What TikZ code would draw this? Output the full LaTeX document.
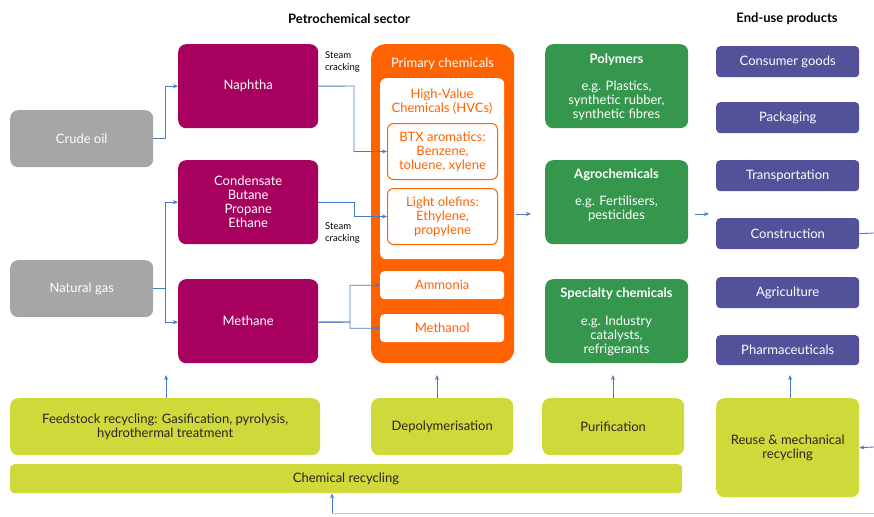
\documentclass[tikz,border=0pt]{standalone}
\usepackage{fontspec}
\setmainfont{Lato}
\usetikzlibrary{arrows.meta}
\definecolor{cgray}{HTML}{A6A6A6}
\definecolor{cmag}{HTML}{A8005F}
\definecolor{corange}{HTML}{FF6200}
\definecolor{cgreen}{HTML}{34974D}
\definecolor{cpurple}{HTML}{525199}
\definecolor{clime}{HTML}{D0D93A}
\definecolor{carrow}{HTML}{4A78CC}
\newcommand{\mainfs}{\fontsize{13}{14}\selectfont}
\tikzset{
  base/.style={rectangle, rounded corners=8pt, inner sep=0pt, anchor=north west, align=center, font=\mainfs},
  graybox/.style={base, fill=cgray, text=white},
  magbox/.style={base, fill=cmag, text=white},
  greenbox/.style={base, fill=cgreen, text=white},
  purplebox/.style={base, fill=cpurple, text=white, rounded corners=4pt},
  limebox/.style={base, fill=clime, text=black!85},
  orangebox/.style={base, fill=corange, rounded corners=14pt},
  whitebox/.style={base, fill=white, text=corange, rounded corners=6pt},
  olbox/.style={base, fill=white, draw=corange, line width=1pt, text=corange, rounded corners=6pt},
  lbl/.style={inner sep=0pt, align=center, font=\mainfs},
  conn/.style={draw=carrow, line width=0.9pt, -{Stealth[length=5pt,width=4pt]}},
  plain/.style={draw=carrow, line width=0.9pt},
  small/.style={font=\fontsize{9.5}{12}\selectfont, align=left, anchor=north west, inner sep=0pt},
  head/.style={font=\bfseries\fontsize{13}{15}\selectfont, inner sep=0pt}
}
\begin{document}
\begin{tikzpicture}[x=1pt,y=-1pt]
\useasboundingbox (0,0) rectangle (874,516);
\fill[white] (0,0) rectangle (874,516);

% headings
\node[head] (h1) at (349,19) {Petrochemical sector};
\node[head] (h2) at (787,19) {End-use products};

% sources
\node[graybox, minimum width=143pt, minimum height=57pt] (crude) at (10,110) {Crude oil};
\node[graybox, minimum width=143pt, minimum height=57pt] (gas) at (10,260) {Natural gas};

% feedstocks
\node[magbox, minimum width=140pt, minimum height=84pt] (naph) at (178,44) {Naphtha};
\node[magbox, minimum width=140pt, minimum height=84pt] (cond) at (178,160) {Condensate\\Butane\\Propane\\Ethane};
\node[magbox, minimum width=140pt, minimum height=84pt] (meth) at (178,279) {Methane};

\node[small] (sc1) at (325,51) {Steam\\cracking};
\node[small] (sc2) at (325,222) {Steam\\cracking};

% primary chemicals
\node[orangebox, minimum width=143pt, minimum height=319pt] (prim) at (371,44) {};
\node[lbl, text=white] (primt) at (442.5,64) {Primary chemicals};
\node[whitebox, minimum width=124pt, minimum height=181pt] (hvc) at (380,78) {};
\node[lbl, text=corange] (hvct) at (442,102) {High-Value\\Chemicals (HVCs)};
\node[olbox, minimum width=110pt, minimum height=56pt] (btx) at (387,123) {BTX aromatics:\\Benzene,\\toluene, xylene};
\node[olbox, minimum width=110pt, minimum height=56pt] (olef) at (387,188) {Light olefins:\\Ethylene,\\propylene};
\node[whitebox, minimum width=124pt, minimum height=28pt, rounded corners=4pt] (amm) at (380,271) {Ammonia};
\node[whitebox, minimum width=124pt, minimum height=28pt, rounded corners=4pt] (mol) at (380,314) {Methanol};

% derived
\node[greenbox, minimum width=143pt, minimum height=84pt] (poly) at (545,44) {};
\node[lbl, text=white] (polyt) at (616.5,60) {\textbf{Polymers}};
\node[lbl, text=white] (polyd) at (616.5,101) {e.g. Plastics,\\synthetic rubber,\\synthetic fibres};
\node[greenbox, minimum width=143pt, minimum height=84pt] (agro) at (545,160) {};
\node[lbl, text=white] (agrot) at (616.5,175) {\textbf{Agrochemicals}};
\node[lbl, text=white] (agrod) at (616.5,209) {e.g. Fertilisers,\\pesticides};
\node[greenbox, minimum width=143pt, minimum height=84pt] (spec) at (545,279) {};
\node[lbl, text=white] (spect) at (616.5,294) {\textbf{Specialty chemicals}};
\node[lbl, text=white] (specd) at (616.5,336) {e.g. Industry\\catalysts,\\refrigerants};

% end-use
\node[purplebox, minimum width=143pt, minimum height=31pt] (cons) at (716,46) {Consumer goods};
\node[purplebox, minimum width=143pt, minimum height=31pt] (pack) at (716,102) {Packaging};
\node[purplebox, minimum width=143pt, minimum height=31pt] (trans) at (716,160) {Transportation};
\node[purplebox, minimum width=143pt, minimum height=31pt] (constr) at (716,218) {Construction};
\node[purplebox, minimum width=143pt, minimum height=31pt] (agri) at (716,277) {Agriculture};
\node[purplebox, minimum width=143pt, minimum height=30pt] (pharm) at (716,335) {Pharmaceuticals};

% recycling
\node[limebox, minimum width=310pt, minimum height=57pt] (feed) at (10,398) {Feedstock recycling: Gasification, pyrolysis,\\hydrothermal treatment};
\node[limebox, minimum width=142pt, minimum height=57pt] (depo) at (371,398) {Depolymerisation};
\node[limebox, minimum width=142pt, minimum height=57pt] (puri) at (542,398) {Purification};
\node[limebox, minimum width=143pt, minimum height=99pt] (reuse) at (716,398) {Reuse \& mechanical\\recycling};
\node[limebox, minimum width=672pt, minimum height=29pt, rounded corners=4pt] (chem) at (10,464) {};
\node[lbl, text=black!85] (chemt) at (346,478.5) {Chemical recycling};

% free ends
\coordinate (r1) at (874,233);
\coordinate (r2) at (874,447);
\coordinate (r3) at (874,513);
\coordinate (b1) at (332,513);

% connectors
\draw[conn] (crude.east) -- ++(12,0) |- (naph.west);
\draw[conn] (gas.east) -- ++(12,0) |- (cond.west);
\draw[conn] (gas.east) -- ++(12,0) |- ([yshift=-1pt]meth.west);
\draw[conn] (naph.east) -- (354,86) |- (btx.west);
\draw[conn] (318,202) -- (354,202) |- (olef.west);
\draw[conn] ([yshift=-1pt]meth.east) -- (350,322) |- (amm.west);
\draw[conn] ([yshift=-1pt]meth.east) -- (350,322) |- (mol.west);
\draw[conn] (516,214) -- (531,214);
\draw[conn] (695,214) -- (709,214);
\draw[conn] (feed.north -| 166,0) -- (166,375);
\draw[conn] (437,398) -- (437,375);
\draw[conn] (613,398) -- (613,375);
\draw[conn] (790,398) -- (790,375);
\draw[plain] (constr.east) -- (r1);
\draw[conn] (r2) -- (reuse.east);
\draw[draw=carrow!40, line width=0.8pt] (r3) -- (b1);
\draw[conn] (b1) -- (chem.south -| b1);
\end{tikzpicture}
\end{document}
